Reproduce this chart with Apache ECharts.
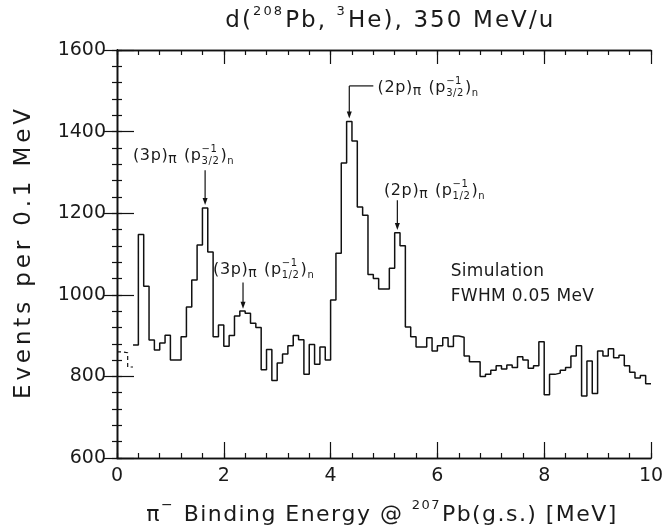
<!DOCTYPE html>
<html>
<head>
<meta charset="utf-8">
<script src="https://cdn.jsdelivr.net/npm/echarts@6/dist/echarts.min.js"></script>
<style>
  html, body { margin: 0; padding: 0; background: #fff; }
  #chart { width: 667px; height: 532px; }
</style>
</head>
<body>
<div id="chart"></div>
<script>
// Histogram of pi- binding energy, 0.1 MeV bins starting at 0.0 MeV
const binWidth = 0.1;
const binStart = 0.0;
// first bins, printed faintly (dashed)
const faintCounts = [860, 858, 823];
// remaining bins, from 0.3 MeV up to 10 MeV
const counts = [
  877, 1148, 1021, 889, 865, 882, 901, 840, 840, 897,   // 0.3 - 1.2
  970, 1036, 1122, 1213, 1105, 897, 926, 874, 900, 948, // 1.3 - 2.2
  960, 955, 930, 920, 816, 866, 790, 833, 855, 875,     // 2.3 - 3.2
  900, 890, 805, 878, 830, 872, 840, 987, 1102, 1323,   // 3.3 - 4.2
  1425, 1377, 1215, 1195, 1050, 1040, 1014, 1014, 1065, 1152, // 4.3 - 5.2
  1120, 921, 897, 872, 872, 895, 862, 875, 895, 873,    // 5.3 - 6.2
  899, 896, 850, 836, 836, 800, 805, 815, 826, 818,     // 6.3 - 7.2
  828, 822, 848, 840, 820, 826, 885, 755, 805, 808,     // 7.3 - 8.2
  815, 822, 850, 875, 752, 838, 758, 862, 850, 868,     // 8.3 - 9.2
  846, 852, 826, 810, 796, 802, 782                     // 9.3 - 9.9
];
const xTicks = [0, 2, 4, 6, 8, 10];
const yTicks = [600, 800, 1000, 1200, 1400, 1600];

const FONT = '"DejaVu Sans", "Liberation Sans", sans-serif';
const INK = '#111';
const TEXT_INK = '#1a1a1a';

function toSteps(values, start) {
  const pts = values.map((v, i) => [+(start + i * binWidth).toFixed(2), v]);
  pts.push([+(start + values.length * binWidth).toFixed(2), values[values.length - 1]]);
  return pts;
}
const faintStart = binStart;
const mainStart = binStart + faintCounts.length * binWidth;

const chart = echarts.init(document.getElementById('chart'), null, { renderer: 'canvas' });

const xMin = xTicks[0], xMax = xTicks[xTicks.length - 1];
const yMin = yTicks[0], yMax = yTicks[yTicks.length - 1];

// frame axes: major ticks on all four sides, minor ticks via extra axes
function frameAxis(min, max, interval, position, tickLen, extra) {
  return Object.assign({
    type: 'value', min: min, max: max, interval: interval, position: position,
    axisLine: { show: true, lineStyle: { color: INK, width: 1.3 } },
    axisTick: { show: true, inside: true, length: tickLen, lineStyle: { color: INK, width: 1.2 } },
    splitLine: { show: false },
    axisLabel: { show: false }
  }, extra || {});
}
const tickLabel = { show: true, color: TEXT_INK, fontSize: 19, fontFamily: FONT, formatter: v => String(v) };

chart.setOption({
  animation: false,
  backgroundColor: '#fff',
  grid: { left: 117, right: 16, top: 50, bottom: 74 },
  xAxis: [
    frameAxis(xMin, xMax, 2, 'bottom', 16, { axisLabel: Object.assign({ margin: 9 }, tickLabel) }),
    frameAxis(xMin, xMax, 2, 'top', 14),
    frameAxis(xMin, xMax, 0.4, 'bottom', 5),
    frameAxis(xMin, xMax, 0.4, 'top', 5)
  ],
  yAxis: [
    frameAxis(yMin, yMax, 200, 'left', 17, { axisLabel: Object.assign({ margin: 11 }, tickLabel) }),
    frameAxis(yMin, yMax, 200, 'right', 13),
    frameAxis(yMin, yMax, 40, 'left', 5),
    frameAxis(yMin, yMax, 40, 'right', 5)
  ],
  series: [
    {
      type: 'line', step: 'end', data: toSteps(faintCounts, faintStart),
      symbol: 'none', lineStyle: { color: INK, width: 1.2, type: [4, 3] }
    },
    {
      type: 'line', step: 'end', data: toSteps(counts, mainStart),
      symbol: 'none', lineStyle: { color: INK, width: 1.5 }
    }
  ]
});

// ---- text with super/subscripts and letter spacing ----
const measureCtx = document.createElement('canvas').getContext('2d');
function textWidth(s, size) {
  measureCtx.font = size + 'px ' + FONT;
  return measureCtx.measureText(s).width;
}
function layoutTokens(tokens, size, spacing) {
  const small = Math.round(size * 0.62);
  const pieces = [];
  let x = 0, gaps = 0;
  const putChars = (s, sz, dy, x0) => {
    let cx = x0, n = 0;
    for (const ch of s) {
      pieces.push({ s: ch, x: cx, dy: dy, size: sz });
      cx += textWidth(ch, sz) + spacing;
      n++;
    }
    return { w: cx - x0, n: n };
  };
  tokens.forEach(tk => {
    if (typeof tk === 'string') {
      const r = putChars(tk, size, 0, x);
      x += r.w; gaps += r.n;
    } else {
      let w = 0, n = 0;
      const sz = tk.size || small;
      if (tk.sup) { const r = putChars(tk.sup, sz, -size * (tk.high || 0.42), x); w = Math.max(w, r.w); n = Math.max(n, r.n); }
      if (tk.sub) { const r = putChars(tk.sub, sz, size * (tk.low || 0.34), x); w = Math.max(w, r.w); n = Math.max(n, r.n); }
      x += w + 1; gaps += n;
    }
  });
  return { pieces: pieces, width: x - spacing, gaps: Math.max(gaps - 1, 1) };
}
// spacing: fixed letter spacing, or {fit: width} to spread the text over a width
function textItems(tokens, size, x, cy, align, spacing) {
  let sp = spacing || 0;
  if (spacing && spacing.fit) {
    const natural = layoutTokens(tokens, size, 0);
    sp = (spacing.fit - natural.width) / natural.gaps;
  }
  const l = layoutTokens(tokens, size, sp);
  const x0 = align === 'center' ? x - l.width / 2 : x;
  return l.pieces.map(p => ({
    type: 'text', silent: true,
    style: { text: p.s, x: x0 + p.x, y: cy + p.dy, font: p.size + 'px ' + FONT, fill: TEXT_INK, verticalAlign: 'middle', align: 'left' }
  }));
}
function arrowItems(x, y1, y2) {
  return [
    { type: 'line', silent: true, shape: { x1: x, y1: y1, x2: x, y2: y2 - 5 }, style: { stroke: INK, lineWidth: 1.2 } },
    { type: 'polygon', silent: true, shape: { points: [[x - 2.5, y2 - 7], [x + 2.5, y2 - 7], [x, y2]] }, style: { fill: INK } }
  ];
}
const px = (x, y) => chart.convertToPixel({ xAxisIndex: 0, yAxisIndex: 0 }, [x, y]);

const levelTokens = (shell, jTop) => ['(' + shell + ')', { sub: 'π', size: 14, low: 0.22 }, ' (p', { sup: '−1', sub: jTop }, ')', { sub: 'n' }];

const els = [];
// title
const titleX = px(5.1, yMax)[0];
els.push(...textItems(['d(', { sup: '208', size: 13 }, 'Pb, ', { sup: '3', size: 13 }, 'He), 350 MeV/u'], 23, titleX, 21, 'center', { fit: 328 }));
// x axis name
const xNameX = px(4.95, yMin)[0];
els.push(...textItems(['π', { sup: '−', size: 14 }, ' Binding Energy @ ', { sup: '207', size: 13 }, 'Pb(g.s.) [MeV]'], 22, xNameX, 515, 'center', { fit: 470 }));
// y axis name, rotated
const yMid = px(xMin, (yMin + yMax) / 2)[1];
els.push({
  type: 'group', x: 24, y: yMid, rotation: Math.PI / 2, silent: true,
  children: textItems(['Events per 0.1 MeV'], 23, 0, 0, 'center', { fit: 290 })
});

// peak labels
let p = px(0.3, 1340); els.push(...textItems(levelTokens('3p', '3/2'), 16, p[0], p[1], 'left', 0.6));
let a = px(1.65, 1305), b = px(1.65, 1220); els.push(...arrowItems(a[0], a[1], b[1]));

p = px(1.8, 1061); els.push(...textItems(levelTokens('3p', '1/2'), 16, p[0], p[1], 'left', 0.6));
a = px(2.36, 1030); b = px(2.36, 966); els.push(...arrowItems(a[0], a[1], b[1]));

p = px(4.88, 1507); els.push(...textItems(levelTokens('2p', '3/2'), 16, p[0], p[1], 'left', 0.6));
a = px(4.8, 1512); b = px(4.35, 1512);
els.push({ type: 'line', silent: true, shape: { x1: a[0], y1: a[1], x2: b[0], y2: b[1] }, style: { stroke: INK, lineWidth: 1.2 } });
let tip = px(4.35, 1432); els.push(...arrowItems(b[0], b[1], tip[1]));

p = px(5.0, 1254); els.push(...textItems(levelTokens('2p', '1/2'), 16, p[0], p[1], 'left', 0.6));
a = px(5.25, 1232); b = px(5.25, 1159); els.push(...arrowItems(a[0], a[1], b[1]));

p = px(6.25, 1058); els.push(...textItems(['Simulation'], 17, p[0], p[1], 'left', 0.3));
p = px(6.25, 995); els.push(...textItems(['FWHM 0.05 MeV'], 17, p[0], p[1], 'left', 0.3));

chart.setOption({ graphic: els });
</script>
</body>
</html>
